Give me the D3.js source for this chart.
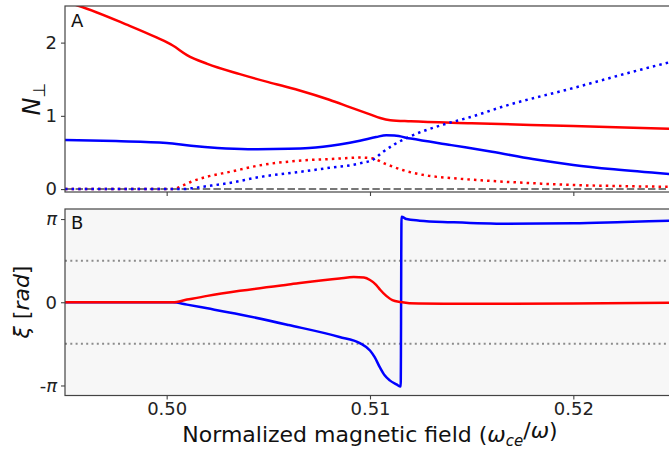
<!DOCTYPE html>
<html>
<head>
<meta charset="utf-8">
<script src="https://cdn.jsdelivr.net/npm/d3@7"></script>
<style>
  body { margin: 0; background: #fff; }
  svg { font-family: "DejaVu Sans", sans-serif; }
</style>
</head>
<body>
<svg id="svg" width="669" height="452"></svg>
<script>
// x ticks
var xTicks = [0.50, 0.51, 0.52];
var nTicks = [0, 1, 2];
var xiTicks = [-Math.PI, 0, Math.PI];
var xiGuides = [-Math.PI / 2, Math.PI / 2];

// panel A: N_perp  [field, value]
var nRedSolid = [[0.4950, 2.56], [0.4957, 2.50], [0.4980, 2.25], [0.4995, 2.07], [0.5003, 1.96],
  [0.5010, 1.83], [0.5020, 1.71], [0.5036, 1.57], [0.5050, 1.46], [0.5065, 1.35], [0.5080, 1.22],
  [0.5090, 1.12], [0.5100, 1.02], [0.5105, 0.97], [0.5110, 0.94], [0.5120, 0.925], [0.5150, 0.90],
  [0.5200, 0.86], [0.5250, 0.82]];
var nBlueSolid = [[0.4950, 0.67], [0.4975, 0.655], [0.5000, 0.63], [0.5012, 0.59], [0.5025, 0.56],
  [0.5040, 0.545], [0.5060, 0.55], [0.5070, 0.56], [0.5085, 0.61], [0.5095, 0.66], [0.5103, 0.71],
  [0.5108, 0.735], [0.5112, 0.73], [0.5120, 0.69], [0.5140, 0.60], [0.5160, 0.51], [0.5180, 0.41],
  [0.5200, 0.33], [0.5220, 0.27], [0.5250, 0.20]];
var nRedDot = [[0.4950, 0.0], [0.5003, 0.0], [0.5008, 0.05], [0.5012, 0.10], [0.5020, 0.17],
  [0.5031, 0.235], [0.5047, 0.33], [0.5064, 0.385], [0.5080, 0.41], [0.5096, 0.43], [0.5101, 0.42],
  [0.5108, 0.34], [0.5116, 0.26], [0.5129, 0.18], [0.5140, 0.15], [0.5160, 0.11], [0.5180, 0.08],
  [0.5200, 0.055], [0.5225, 0.04], [0.5250, 0.03]];
var nBlueDot = [[0.4950, 0.0], [0.5008, 0.0], [0.5012, 0.01], [0.5020, 0.04], [0.5030, 0.08],
  [0.5047, 0.17], [0.5064, 0.23], [0.5080, 0.29], [0.5095, 0.35], [0.5102, 0.41], [0.5106, 0.50],
  [0.5112, 0.61], [0.5119, 0.71], [0.5136, 0.88], [0.5149, 0.98], [0.5167, 1.14], [0.5200, 1.38],
  [0.5233, 1.63], [0.5250, 1.75]];

// panel B: xi [rad]
var xiRed = [[0.4950, 0], [0.5003, 0], [0.5010, 0.10], [0.5020, 0.24], [0.5036, 0.43], [0.5060, 0.67],
  [0.5085, 0.90], [0.5092, 0.95], [0.5097, 0.93], [0.5100, 0.84], [0.5103, 0.66], [0.5105, 0.47],
  [0.5108, 0.24], [0.5111, 0.08], [0.5115, 0.01], [0.5124, -0.05], [0.5150, -0.06], [0.5200, -0.05],
  [0.5250, -0.02]];
var xiBlue = [[0.4950, 0], [0.5003, 0], [0.5010, -0.09], [0.5020, -0.23], [0.5036, -0.46], [0.5060, -0.86],
  [0.5085, -1.31], [0.5095, -1.54], [0.5100, -1.82], [0.51023, -2.07], [0.51048, -2.45], [0.51072, -2.76],
  [0.51097, -2.95], [0.5113, -3.10], [0.51151, -3.18], [0.51155, 3.23], [0.51179, 3.14], [0.51244, 3.08],
  [0.5140, 3.02], [0.5167, 2.96], [0.5200, 2.98], [0.5225, 3.03], [0.5250, 3.08]];

var svg = d3.select('#svg');
var left = 65, right = 675;

var x = d3.scaleLinear().domain([0.495, 0.525]).range([left, right]);
var yN = d3.scaleLinear().domain([-0.04, 2.5]).range([192, 6]);
var yXi = d3.scaleLinear().domain([-3.52, 3.52]).range([395.5, 209]);

var defs = svg.append('defs');
defs.append('clipPath').attr('id', 'clipA').append('rect')
  .attr('x', left).attr('y', 6).attr('width', right - left).attr('height', 186);
defs.append('clipPath').attr('id', 'clipB').append('rect')
  .attr('x', left).attr('y', 209).attr('width', right - left).attr('height', 186.5);

// panel backgrounds
svg.append('rect').attr('x', left).attr('y', 209).attr('width', right - left).attr('height', 186.5)
  .attr('fill', '#f7f7f7');

function lineOf(yScale) {
  return d3.line().x(function (d) { return x(d[0]); }).y(function (d) { return yScale(d[1]); })
    .curve(d3.curveMonotoneX);
}

// ---- panel A
var gA = svg.append('g').attr('clip-path', 'url(#clipA)');
gA.append('line').attr('x1', left).attr('x2', right).attr('y1', yN(0)).attr('y2', yN(0))
  .attr('stroke', '#777').attr('stroke-width', 2).attr('stroke-dasharray', '7.4,3.2');

var lineA = lineOf(yN);
gA.append('path').attr('d', lineA(nRedSolid)).attr('fill', 'none').attr('stroke', '#ff0000').attr('stroke-width', 2.5);
gA.append('path').attr('d', lineA(nBlueSolid)).attr('fill', 'none').attr('stroke', '#0000ff').attr('stroke-width', 2.5);
gA.append('path').attr('d', lineA(nRedDot)).attr('fill', 'none').attr('stroke', '#ff0000').attr('stroke-width', 2.5)
  .attr('stroke-dasharray', '2.5,4.1');
gA.append('path').attr('d', lineA(nBlueDot)).attr('fill', 'none').attr('stroke', '#0000ff').attr('stroke-width', 2.5)
  .attr('stroke-dasharray', '2.5,4.1');

// ---- panel B
var gB = svg.append('g').attr('clip-path', 'url(#clipB)');
gB.selectAll('line.guide').data(xiGuides).enter().append('line').attr('class', 'guide')
  .attr('x1', left).attr('x2', right)
  .attr('y1', function (d) { return yXi(d); }).attr('y2', function (d) { return yXi(d); })
  .attr('stroke', '#8c8c8c').attr('stroke-width', 2).attr('stroke-dasharray', '2,3.3');

var lineB = lineOf(yXi);
gB.append('path').attr('d', lineB(xiBlue)).attr('fill', 'none').attr('stroke', '#0000ff').attr('stroke-width', 2.5);
gB.append('path').attr('d', lineB(xiRed)).attr('fill', 'none').attr('stroke', '#ff0000').attr('stroke-width', 2.5);

// ---- frames
svg.append('rect').attr('x', left).attr('y', 6).attr('width', right - left).attr('height', 186)
  .attr('fill', 'none').attr('stroke', '#444').attr('stroke-width', 1.2);
svg.append('rect').attr('x', left).attr('y', 209).attr('width', right - left).attr('height', 186.5)
  .attr('fill', 'none').attr('stroke', '#444').attr('stroke-width', 1.2);

// ---- axes
function styleAxis(g) {
  g.attr('font-family', null).attr('font-size', null);
  g.select('.domain').remove();
  g.selectAll('.tick line').attr('stroke', '#444').attr('stroke-width', 1.1);
  g.selectAll('.tick text').attr('fill', '#222').style('font-size', '18px');
}

svg.append('g').attr('transform', 'translate(0,192)')
  .call(d3.axisBottom(x).tickValues(xTicks).tickSize(4).tickFormat(''))
  .call(styleAxis);
svg.append('g').attr('transform', 'translate(0,395.5)')
  .call(d3.axisBottom(x).tickValues(xTicks).tickSize(4).tickPadding(3).tickFormat(d3.format('.2f')))
  .call(styleAxis);
svg.append('g').attr('transform', 'translate(' + left + ',0)')
  .call(d3.axisLeft(yN).tickValues(nTicks).tickSize(4).tickPadding(4).tickFormat(d3.format('d')))
  .call(styleAxis);
var axXi = svg.append('g').attr('transform', 'translate(' + left + ',0)')
  .call(d3.axisLeft(yXi).tickValues(xiTicks).tickSize(4).tickPadding(4))
  .call(styleAxis);
axXi.selectAll('.tick text').each(function (d) {
  var t = d3.select(this).text('');
  if (d === 0) { t.text('0'); return; }
  if (d < 0) t.append('tspan').text('-');
  t.append('tspan').style('font-style', 'italic').text('π');
});

// ---- labels
var yLabA = svg.append('text').attr('transform', 'translate(40,99) rotate(-90)')
  .attr('text-anchor', 'middle').style('font-size', '24px').attr('fill', '#111');
yLabA.append('tspan').style('font-style', 'italic').text('N');
yLabA.append('tspan').attr('dy', '0.3em').style('font-size', '17px').text('⊥');

var yLabB = svg.append('text').attr('transform', 'translate(29,302) rotate(-90)')
  .attr('text-anchor', 'middle').style('font-size', '22px').attr('fill', '#111');
yLabB.append('tspan').style('font-style', 'italic').text('ξ');
yLabB.append('tspan').text(' [');
yLabB.append('tspan').style('font-style', 'italic').text('rad');
yLabB.append('tspan').text(']');

var xLab = svg.append('text').attr('x', 370).attr('y', 442).attr('text-anchor', 'middle')
  .style('font-size', '22px').attr('fill', '#111');
xLab.append('tspan').text('Normalized magnetic field (');
xLab.append('tspan').style('font-style', 'italic').text('ω');
xLab.append('tspan').attr('dy', '0.25em').style('font-size', '15px').style('font-style', 'italic').text('ce');
xLab.append('tspan').attr('dy', '-0.37em').text('/');
xLab.append('tspan').style('font-style', 'italic').text('ω');
xLab.append('tspan').text(')');

svg.append('text').attr('x', 71).attr('y', 27).style('font-size', '18px').attr('fill', '#111').text('A');
svg.append('text').attr('x', 71).attr('y', 229).style('font-size', '18px').attr('fill', '#111').text('B');
</script>
</body>
</html>
